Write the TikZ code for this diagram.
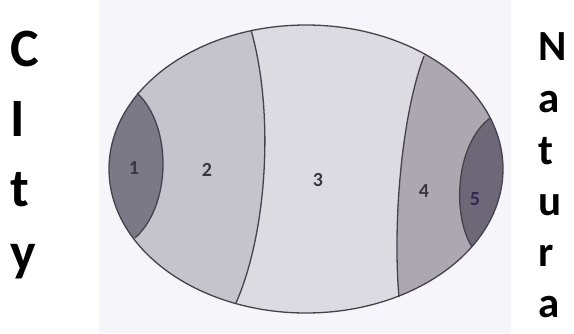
\documentclass[tikz,border=0pt]{standalone}
\usepackage{fontspec}
\setmainfont{Carlito}
\definecolor{bgphoto}{HTML}{F6F5FA}
\definecolor{cone}{HTML}{7C7987}
\definecolor{ctwo}{HTML}{C5C3CB}
\definecolor{cthree}{HTML}{DCDBE1}
\definecolor{cfour}{HTML}{ABA8B1}
\definecolor{cfive}{HTML}{6D6878}
\definecolor{outline}{HTML}{45424C}
\definecolor{numcol}{HTML}{3A3840}
\definecolor{fivecol}{HTML}{2E2A55}
\begin{document}
\begin{tikzpicture}[x=1pt,y=-1pt,
  bigletter/.style={anchor=base west, inner sep=0pt, font=\bfseries\fontsize{54}{54}\selectfont},
  sideletter/.style={anchor=base west, inner sep=0pt, font=\bfseries\fontsize{43}{43}\selectfont},
  numlabel/.style={inner sep=0pt, text=numcol, font=\bfseries\fontsize{20}{20}\selectfont},
  border/.style={draw=outline, line width=1.3pt}]
\useasboundingbox (0,0) rectangle (574,333);
\fill[white] (0,0) rectangle (574,333);
\fill[bgphoto] (99,0) rectangle (511,333);
% regions
\fill[cthree] (306,169) ellipse [x radius=197pt, y radius=144pt];
\begin{scope}
  \clip (306,169) ellipse [x radius=197pt, y radius=144pt];
  \fill[ctwo] (251,30) .. controls (274,110) and (268,230) .. (236,303) -- (236,340) -- (90,340) -- (90,0) -- (251,0) -- cycle;
  \fill[cone] (137,93) .. controls (172,125) and (172,205) .. (135,238) -- (90,238) -- (90,93) -- cycle;
  \fill[cfour] (424,56) .. controls (400,120) and (393,230) .. (399,297) -- (399,340) -- (520,340) -- (520,0) -- (424,0) -- cycle;
  \fill[cfive] (490,118) .. controls (455,145) and (452,215) .. (472,247) -- (520,247) -- (520,118) -- cycle;
\end{scope}
% boundaries
\draw[border] (251,30) .. controls (274,110) and (268,230) .. (236,303);
\draw[border] (137,93) .. controls (172,125) and (172,205) .. (135,238);
\draw[border] (424,56) .. controls (400,120) and (393,230) .. (399,297);
\draw[border] (490,118) .. controls (455,145) and (452,215) .. (472,247);
\draw[border] (306,169) ellipse [x radius=197pt, y radius=144pt];
% numbers
\node[numlabel] (n1) at (134,168) {1};
\node[numlabel] (n2) at (207,170) {2};
\node[numlabel] (n3) at (318,180) {3};
\node[numlabel] (n4) at (424,191) {4};
\node[numlabel, text=fivecol] (n5) at (475,199) {5};
% left word
\node[bigletter] (l1) at (10,66) {C};
\node[bigletter] (l2) at (10,136) {I};
\node[bigletter] (l3) at (10,206) {t};
\node[bigletter] (l4) at (10,270) {y};
% right word
\node[sideletter] (r1) at (538,60) {N};
\node[sideletter] (r2) at (538,112) {a};
\node[sideletter] (r3) at (538,164) {t};
\node[sideletter] (r4) at (538,215) {u};
\node[sideletter] (r5) at (538,266) {r};
\node[sideletter] (r6) at (538,317) {a};
\end{tikzpicture}
\end{document}
